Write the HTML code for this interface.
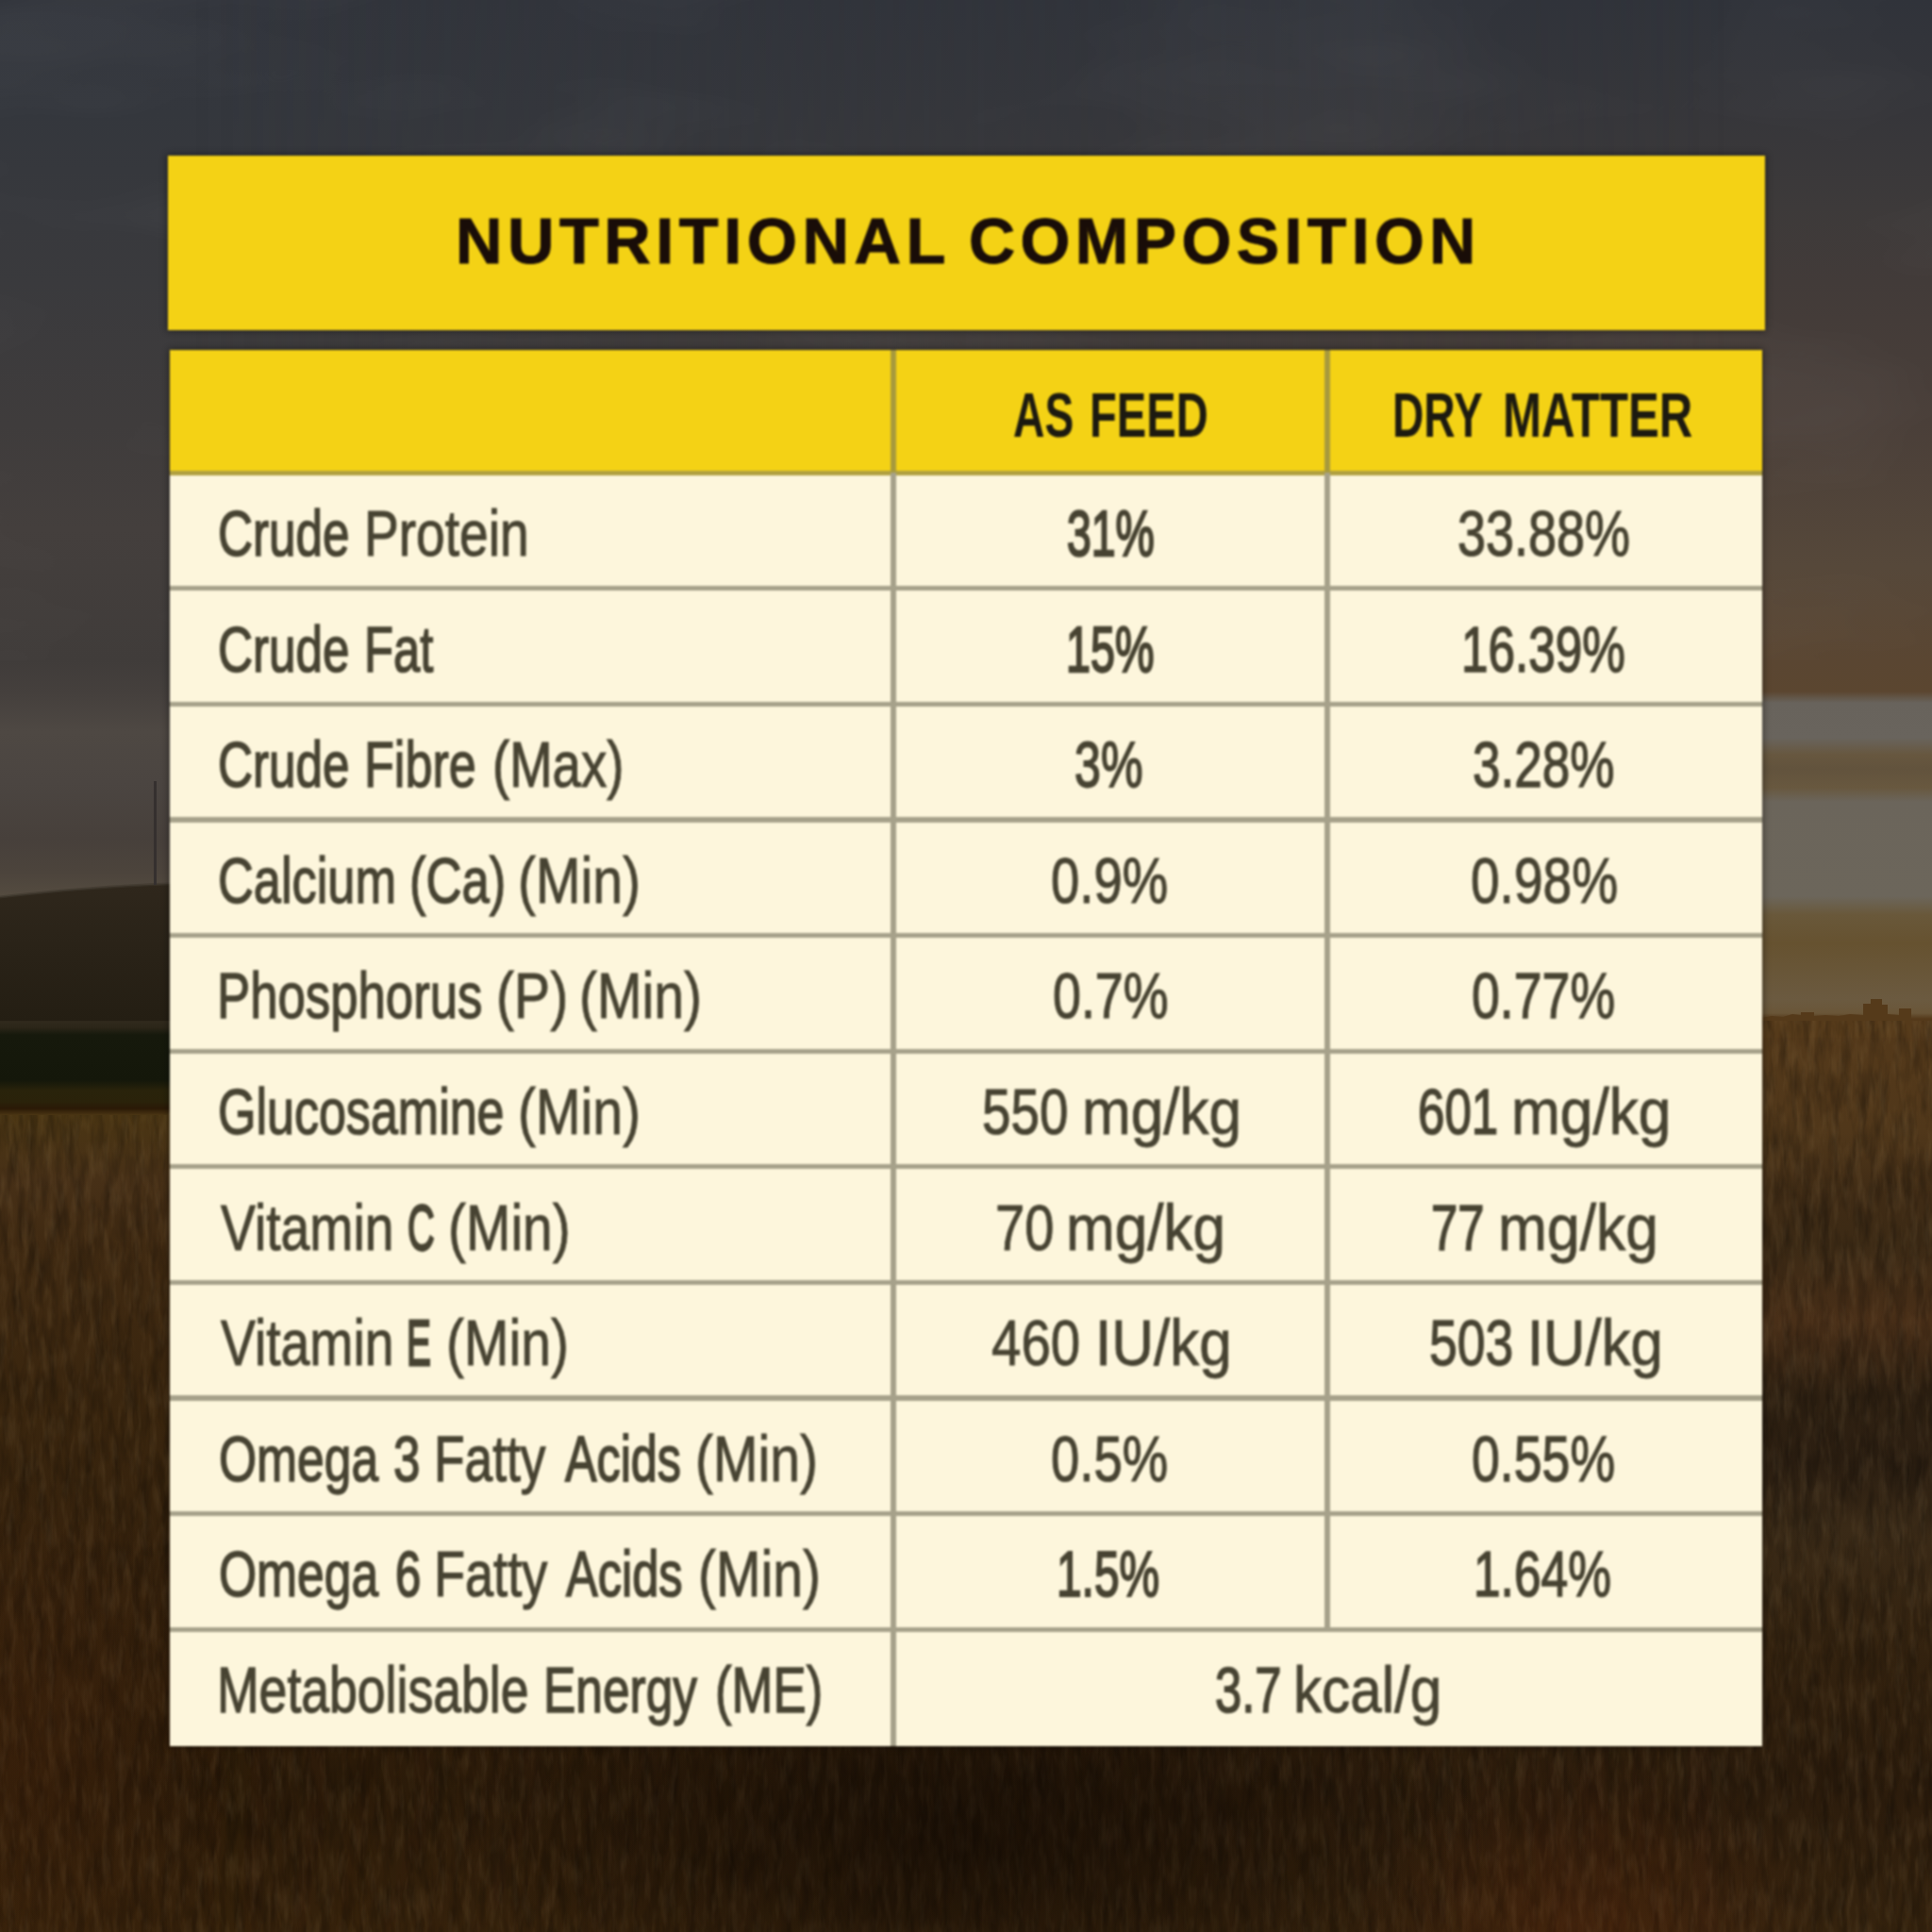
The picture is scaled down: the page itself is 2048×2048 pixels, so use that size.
<!DOCTYPE html>
<html lang="en"><head><meta charset="utf-8"><title>Nutritional Composition</title>
<style>
*{margin:0;padding:0;box-sizing:border-box}
html,body{width:2048px;height:2048px;overflow:hidden;background:#3a3430}
body{position:relative;font-family:"Liberation Sans",sans-serif}
#bg,#bgl,#bgr{position:absolute;left:0;top:0;width:2048px;height:2048px}
#bgl{background:linear-gradient(to bottom,#32353c 0px,#34373d 120px,#3a3a3d 300px,#3f3c3c 450px,#443f3d 560px,#403c3a 700px,#45403d 735px,#4e4843 775px,#4b4541 830px,#47403b 890px,#4c443c 925px,#554c40 952px,#554c40 960px,#2d261b 961px,#2a2318 1010px,#241e13 1078px,#30291c 1083px,#2c2619 1089px,#16190c 1097px,#14170a 1145px,#29230b 1156px,#2a220a 1168px,#2a1906 1175px,#4a3513 1182px,#473017 1250px,#402a12 1320px,#39250e 1500px,#33200c 1700px,#2c1b09 1900px,#35210b 2048px)}
#bgr{background:linear-gradient(to bottom,#30333a 0px,#36363a 120px,#3d3a3a 220px,#423b39 300px,#4a3f39 450px,#56483a 600px,#5a4632 700px,#5b4630 733px,#68635c 745px,#69645d 782px,#67573f 800px,#62533d 815px,#68583f 835px,#6b655b 850px,#6c665b 950px,#69583a 970px,#665230 1000px,#6b5a40 1060px,#6a5638 1074px,#54391a 1080px,#50371a 1200px,#3f2b15 1270px,#3c2a15 1320px,#492f18 1400px,#2f2112 1480px,#2b1e11 1550px,#3a2a17 1620px,#33220f 1750px,#2c1c0c 1900px,#35230e 2048px);-webkit-mask-image:linear-gradient(to right,transparent 10%,#000 90%);mask-image:linear-gradient(to right,transparent 10%,#000 90%)}
#bgs{position:absolute;left:0;top:0}
#bgd{position:absolute;left:0;top:0;width:2048px;height:2048px;background:radial-gradient(ellipse 560px 230px at 1030px 1950px,rgba(8,3,0,.5),rgba(8,3,0,0) 100%),radial-gradient(ellipse 260px 200px at 1680px 2060px,rgba(120,40,10,.22),rgba(120,40,10,0) 100%),radial-gradient(ellipse 220px 300px at 30px 1860px,rgba(110,50,15,.16),rgba(110,50,15,0) 100%)}
#fg{position:absolute;left:0;top:0;width:2048px;height:2048px;filter:blur(.9px)}
.box{position:absolute;box-shadow:0 0 7px 1px rgba(0,0,0,.45)}
#title{left:178px;top:165px;width:1693px;height:185px;background:#f4d215}
#tab{left:180px;top:371px;width:1688px;height:1480px;background:#fdf6dc}
#hdr{position:absolute;left:0;top:0;width:100%;height:130.2px;background:#f4d215}
.hl,.vl{position:absolute;background:#a6a18a}
.hl{left:0;width:100%;height:5.2px}
.vl{width:5.2px}
h1{font-size:inherit;font-weight:inherit}
.t{position:absolute;display:block;white-space:nowrap;line-height:1;transform-origin:0 0;color:#474332;-webkit-text-stroke:1.1px #474332}
.b{font-weight:700;color:#1c1a10;-webkit-text-stroke:0 #1c1a10}
.ti{color:#190d08;-webkit-text-stroke-color:#190d08}
</style></head>
<body>
<div id="bg"><div id="bgl"></div><div id="bgr"></div></div>
<svg id="bgs" width="2048" height="2048" viewBox="0 0 2048 2048" aria-hidden="true">
<defs>
<filter id="gr" x="0" y="0" width="100%" height="100%"><feTurbulence type="fractalNoise" baseFrequency="0.10 0.022" numOctaves="3" seed="7" result="n"/><feColorMatrix in="n" type="matrix" values="0 0 0 0 0  0 0 0 0 0  0 0 0 0 0  1.6 0 0 0 -0.62"/></filter>
<filter id="gr2" x="0" y="0" width="100%" height="100%"><feTurbulence type="fractalNoise" baseFrequency="0.12 0.028" numOctaves="3" seed="23" result="n"/><feColorMatrix in="n" type="matrix" values="0 0 0 0 1  0 0 0 0 0.72  0 0 0 0 0.35  1.5 0 0 0 -0.66"/></filter>
<filter id="cl" x="0" y="0" width="100%" height="100%"><feTurbulence type="fractalNoise" baseFrequency="0.0025 0.008" numOctaves="3" seed="4" result="n"/><feColorMatrix in="n" type="matrix" values="0 0 0 0 1  0 0 0 0 1  0 0 0 0 1  0.9 0 0 0 -0.4"/></filter>
<linearGradient id="hl" gradientUnits="userSpaceOnUse" x1="0" y1="935" x2="0" y2="1082"><stop offset="0" stop-color="#2f271c"/><stop offset="1" stop-color="#241e13"/></linearGradient>
<linearGradient id="hg" x1="0" y1="0" x2="1" y2="0"><stop offset="0" stop-color="#2c251a"/><stop offset="1" stop-color="#2c251a" stop-opacity="0"/></linearGradient>
</defs>
<rect x="0" y="0" width="2048" height="700" filter="url(#cl)" opacity="0.10"/>
<path d="M0 951 C60 944 120 939 180 937 C400 930 560 940 760 975 L760 1082 L0 1082 Z" fill="url(#hl)"/>
<path d="M0 951 C60 944 120 939 180 937 C400 930 560 940 760 975" fill="none" stroke="#3e372d" stroke-width="3" opacity=".6"/>
<rect x="163" y="828" width="3" height="110" fill="#35302f"/>
<path d="M1868 1079 l10 -2 l12 1 l10 -3 l9 1 v-3 h14 v4 l12 -1 l14 1 l12 -2 l14 1 v-12 h8 v-5 h12 v6 h6 v10 l12 1 v-7 h13 V1100 H1868 Z" fill="#553a1a"/>
<rect x="0" y="1182" width="1024" height="866" filter="url(#gr)" opacity="0.36"/><rect x="1024" y="1082" width="1024" height="966" filter="url(#gr)" opacity="0.36"/>
<rect x="0" y="1182" width="1024" height="866" filter="url(#gr2)" opacity="0.11"/><rect x="1024" y="1082" width="1024" height="966" filter="url(#gr2)" opacity="0.11"/>
</svg><div id="bgd"></div>
<div id="fg">
<div class="box" id="title"></div>
<div class="box" id="tab"><div id="hdr"></div><div class="hl" style="top:127.6px;background:#b0a040"></div><div class="hl" style="top:250.2px;background:#a6a18a"></div><div class="hl" style="top:372.8px;background:#a6a18a"></div><div class="hl" style="top:495.4px;background:#a6a18a"></div><div class="hl" style="top:618.0px;background:#a6a18a"></div><div class="hl" style="top:740.6px;background:#a6a18a"></div><div class="hl" style="top:863.2px;background:#a6a18a"></div><div class="hl" style="top:985.8px;background:#a6a18a"></div><div class="hl" style="top:1108.4px;background:#a6a18a"></div><div class="hl" style="top:1231.0px;background:#a6a18a"></div><div class="hl" style="top:1353.6px;background:#a6a18a"></div><div class="vl" style="left:764.4px;top:0;height:1480px"></div><div class="vl" style="left:1224.4px;top:0;height:1356.2px"></div><div class="vl" style="left:764.4px;top:0;height:130.2px;background:#a89a3c"></div><div class="vl" style="left:1224.4px;top:0;height:130.2px;background:#a89a3c"></div></div>
<h1 role="heading"><span class="t b ti" style="left:482.50px;top:222.31px;font-size:68.5px;transform:scaleX(1.0004);-webkit-text-stroke-width:1.00px;letter-spacing:5.5px">NUTRITIONAL</span> <span class="t b ti" style="left:1027.11px;top:222.31px;font-size:68.5px;transform:scaleX(0.9913);-webkit-text-stroke-width:1.00px;letter-spacing:5.5px">COMPOSITION</span></h1>
<div role="table" aria-label="Nutritional composition">
<div role="row"><span role="columnheader"></span><span role="columnheader"><span class="t b" style="left:1073.50px;top:407.41px;font-size:66.5px;transform:scaleX(0.6953)">AS</span> <span class="t b" style="left:1154.66px;top:407.41px;font-size:66.5px;transform:scaleX(0.7092)">FEED</span></span><span role="columnheader"><span class="t b" style="left:1476.22px;top:407.41px;font-size:66.5px;transform:scaleX(0.6947)">DRY</span> <span class="t b" style="left:1592.64px;top:407.41px;font-size:66.5px;transform:scaleX(0.7399)">MATTER</span></span></div>
<div role="row"><span role="cell"><span class="t " style="left:231.36px;top:532.01px;font-size:68.5px;transform:scaleX(0.7483);-webkit-text-stroke-width:1.62px">Crude</span> <span class="t " style="left:385.91px;top:532.01px;font-size:68.5px;transform:scaleX(0.8043);-webkit-text-stroke-width:1.06px">Protein</span></span><span role="cell"><span class="t " style="left:1130.77px;top:532.01px;font-size:68.5px;transform:scaleX(0.6775);-webkit-text-stroke-width:2.45px">31%</span></span><span role="cell"><span class="t " style="left:1544.50px;top:532.01px;font-size:68.5px;transform:scaleX(0.7882);-webkit-text-stroke-width:1.21px">33.88%</span></span></div>
<div role="row"><span role="cell"><span class="t " style="left:231.36px;top:654.61px;font-size:68.5px;transform:scaleX(0.7483);-webkit-text-stroke-width:1.62px">Crude</span> <span class="t " style="left:386.43px;top:654.61px;font-size:68.5px;transform:scaleX(0.7403);-webkit-text-stroke-width:1.70px">Fat</span></span><span role="cell"><span class="t " style="left:1130.21px;top:654.61px;font-size:68.5px;transform:scaleX(0.6818);-webkit-text-stroke-width:2.39px">15%</span></span><span role="cell"><span class="t " style="left:1548.66px;top:654.61px;font-size:68.5px;transform:scaleX(0.7488);-webkit-text-stroke-width:1.61px">16.39%</span></span></div>
<div role="row"><span role="cell"><span class="t " style="left:231.36px;top:777.21px;font-size:68.5px;transform:scaleX(0.7483);-webkit-text-stroke-width:1.62px">Crude</span> <span class="t " style="left:386.26px;top:777.21px;font-size:68.5px;transform:scaleX(0.7610);-webkit-text-stroke-width:1.48px">Fibre</span> <span class="t " style="left:522.27px;top:777.21px;font-size:68.5px;transform:scaleX(0.7959);-webkit-text-stroke-width:1.14px">(Max)</span></span><span role="cell"><span class="t " style="left:1139.09px;top:777.21px;font-size:68.5px;transform:scaleX(0.7329);-webkit-text-stroke-width:1.78px">3%</span></span><span role="cell"><span class="t " style="left:1561.27px;top:777.21px;font-size:68.5px;transform:scaleX(0.7753);-webkit-text-stroke-width:1.34px">3.28%</span></span></div>
<div role="row"><span role="cell"><span class="t " style="left:231.26px;top:899.81px;font-size:68.5px;transform:scaleX(0.7638);-webkit-text-stroke-width:1.45px">Calcium</span> <span class="t " style="left:433.87px;top:899.81px;font-size:68.5px;transform:scaleX(0.7682);-webkit-text-stroke-width:1.41px">(Ca)</span> <span class="t " style="left:549.34px;top:899.81px;font-size:68.5px;transform:scaleX(0.8337);-webkit-text-stroke-width:0.90px">(Min)</span></span><span role="cell"><span class="t " style="left:1114.47px;top:899.81px;font-size:68.5px;transform:scaleX(0.7948);-webkit-text-stroke-width:1.15px">0.9%</span></span><span role="cell"><span class="t " style="left:1558.72px;top:899.81px;font-size:68.5px;transform:scaleX(0.8036);-webkit-text-stroke-width:1.07px">0.98%</span></span></div>
<div role="row"><span role="cell"><span class="t " style="left:229.69px;top:1022.41px;font-size:68.5px;transform:scaleX(0.7698);-webkit-text-stroke-width:1.39px">Phosphorus</span> <span class="t " style="left:526.04px;top:1022.41px;font-size:68.5px;transform:scaleX(0.8341);-webkit-text-stroke-width:0.90px">(P)</span> <span class="t " style="left:613.54px;top:1022.41px;font-size:68.5px;transform:scaleX(0.8337);-webkit-text-stroke-width:0.90px">(Min)</span></span><span role="cell"><span class="t " style="left:1115.92px;top:1022.41px;font-size:68.5px;transform:scaleX(0.7852);-webkit-text-stroke-width:1.24px">0.7%</span></span><span role="cell"><span class="t " style="left:1560.23px;top:1022.41px;font-size:68.5px;transform:scaleX(0.7829);-webkit-text-stroke-width:1.26px">0.77%</span></span></div>
<div role="row"><span role="cell"><span class="t " style="left:231.29px;top:1145.01px;font-size:68.5px;transform:scaleX(0.7593);-webkit-text-stroke-width:1.50px">Glucosamine</span> <span class="t " style="left:549.34px;top:1145.01px;font-size:68.5px;transform:scaleX(0.8337);-webkit-text-stroke-width:0.90px">(Min)</span></span><span role="cell"><span class="t " style="left:1041.14px;top:1145.01px;font-size:68.5px;transform:scaleX(0.7997);-webkit-text-stroke-width:1.10px">550</span> <span class="t " style="left:1146.78px;top:1145.01px;font-size:68.5px;transform:scaleX(0.9067);-webkit-text-stroke-width:0.90px">mg/kg</span></span><span role="cell"><span class="t " style="left:1502.58px;top:1145.01px;font-size:68.5px;transform:scaleX(0.7457);-webkit-text-stroke-width:1.64px">601</span> <span class="t " style="left:1602.28px;top:1145.01px;font-size:68.5px;transform:scaleX(0.9078);-webkit-text-stroke-width:0.90px">mg/kg</span></span></div>
<div role="row"><span role="cell"><span class="t " style="left:233.92px;top:1267.61px;font-size:68.5px;transform:scaleX(0.8076);-webkit-text-stroke-width:1.03px">Vitamin</span> <span class="t " style="left:432.27px;top:1267.61px;font-size:68.5px;transform:scaleX(0.5791);-webkit-text-stroke-width:2.80px">C</span> <span class="t " style="left:474.55px;top:1267.61px;font-size:68.5px;transform:scaleX(0.8311);-webkit-text-stroke-width:0.90px">(Min)</span></span><span role="cell"><span class="t " style="left:1054.52px;top:1267.61px;font-size:68.5px;transform:scaleX(0.8192);-webkit-text-stroke-width:0.93px">70</span> <span class="t " style="left:1129.98px;top:1267.61px;font-size:68.5px;transform:scaleX(0.9067);-webkit-text-stroke-width:0.90px">mg/kg</span></span><span role="cell"><span class="t " style="left:1516.89px;top:1267.61px;font-size:68.5px;transform:scaleX(0.7426);-webkit-text-stroke-width:1.68px">77</span> <span class="t " style="left:1588.27px;top:1267.61px;font-size:68.5px;transform:scaleX(0.9106);-webkit-text-stroke-width:0.90px">mg/kg</span></span></div>
<div role="row"><span role="cell"><span class="t " style="left:233.92px;top:1390.21px;font-size:68.5px;transform:scaleX(0.8076);-webkit-text-stroke-width:1.03px">Vitamin</span> <span class="t " style="left:431.16px;top:1390.21px;font-size:68.5px;transform:scaleX(0.5662);-webkit-text-stroke-width:2.80px">E</span> <span class="t " style="left:473.24px;top:1390.21px;font-size:68.5px;transform:scaleX(0.8331);-webkit-text-stroke-width:0.90px">(Min)</span></span><span role="cell"><span class="t " style="left:1051.35px;top:1390.21px;font-size:68.5px;transform:scaleX(0.8243);-webkit-text-stroke-width:0.90px">460</span> <span class="t " style="left:1161.48px;top:1390.21px;font-size:68.5px;transform:scaleX(0.9046);-webkit-text-stroke-width:0.90px">IU/kg</span></span><span role="cell"><span class="t " style="left:1514.53px;top:1390.21px;font-size:68.5px;transform:scaleX(0.7823);-webkit-text-stroke-width:1.27px">503</span> <span class="t " style="left:1618.51px;top:1390.21px;font-size:68.5px;transform:scaleX(0.8992);-webkit-text-stroke-width:0.90px">IU/kg</span></span></div>
<div role="row"><span role="cell"><span class="t " style="left:231.63px;top:1512.81px;font-size:68.5px;transform:scaleX(0.7528);-webkit-text-stroke-width:1.57px">Omega</span> <span class="t " style="left:417.12px;top:1512.81px;font-size:68.5px;transform:scaleX(0.7465);-webkit-text-stroke-width:1.63px">3</span> <span class="t " style="left:459.82px;top:1512.81px;font-size:68.5px;transform:scaleX(0.7775);-webkit-text-stroke-width:1.32px">Fatty</span> <span class="t " style="left:598.65px;top:1512.81px;font-size:68.5px;transform:scaleX(0.7340);-webkit-text-stroke-width:1.77px">Acids</span> <span class="t " style="left:737.34px;top:1512.81px;font-size:68.5px;transform:scaleX(0.8337);-webkit-text-stroke-width:0.90px">(Min)</span></span><span role="cell"><span class="t " style="left:1114.47px;top:1512.81px;font-size:68.5px;transform:scaleX(0.7948);-webkit-text-stroke-width:1.15px">0.5%</span></span><span role="cell"><span class="t " style="left:1560.23px;top:1512.81px;font-size:68.5px;transform:scaleX(0.7829);-webkit-text-stroke-width:1.26px">0.55%</span></span></div>
<div role="row"><span role="cell"><span class="t " style="left:231.63px;top:1635.41px;font-size:68.5px;transform:scaleX(0.7528);-webkit-text-stroke-width:1.57px">Omega</span> <span class="t " style="left:419.07px;top:1635.41px;font-size:68.5px;transform:scaleX(0.7146);-webkit-text-stroke-width:1.99px">6</span> <span class="t " style="left:459.73px;top:1635.41px;font-size:68.5px;transform:scaleX(0.7895);-webkit-text-stroke-width:1.20px">Fatty</span> <span class="t " style="left:600.04px;top:1635.41px;font-size:68.5px;transform:scaleX(0.7378);-webkit-text-stroke-width:1.73px">Acids</span> <span class="t " style="left:739.64px;top:1635.41px;font-size:68.5px;transform:scaleX(0.8337);-webkit-text-stroke-width:0.90px">(Min)</span></span><span role="cell"><span class="t " style="left:1120.47px;top:1635.41px;font-size:68.5px;transform:scaleX(0.6988);-webkit-text-stroke-width:2.18px">1.5%</span></span><span role="cell"><span class="t " style="left:1561.54px;top:1635.41px;font-size:68.5px;transform:scaleX(0.7512);-webkit-text-stroke-width:1.58px">1.64%</span></span></div>
<div role="row"><span role="cell"><span class="t " style="left:230.29px;top:1758.01px;font-size:68.5px;transform:scaleX(0.7818);-webkit-text-stroke-width:1.27px">Metabolisable</span> <span class="t " style="left:576.34px;top:1758.01px;font-size:68.5px;transform:scaleX(0.7510);-webkit-text-stroke-width:1.59px">Energy</span> <span class="t " style="left:757.86px;top:1758.01px;font-size:68.5px;transform:scaleX(0.7700);-webkit-text-stroke-width:1.39px">(ME)</span></span><span role="cell"><span class="t " style="left:1287.64px;top:1758.01px;font-size:68.5px;transform:scaleX(0.7417);-webkit-text-stroke-width:1.69px">3.7</span> <span class="t " style="left:1371.08px;top:1758.01px;font-size:68.5px;transform:scaleX(0.8786);-webkit-text-stroke-width:0.90px">kcal/g</span></span></div>
</div>
</div>
</body></html>
